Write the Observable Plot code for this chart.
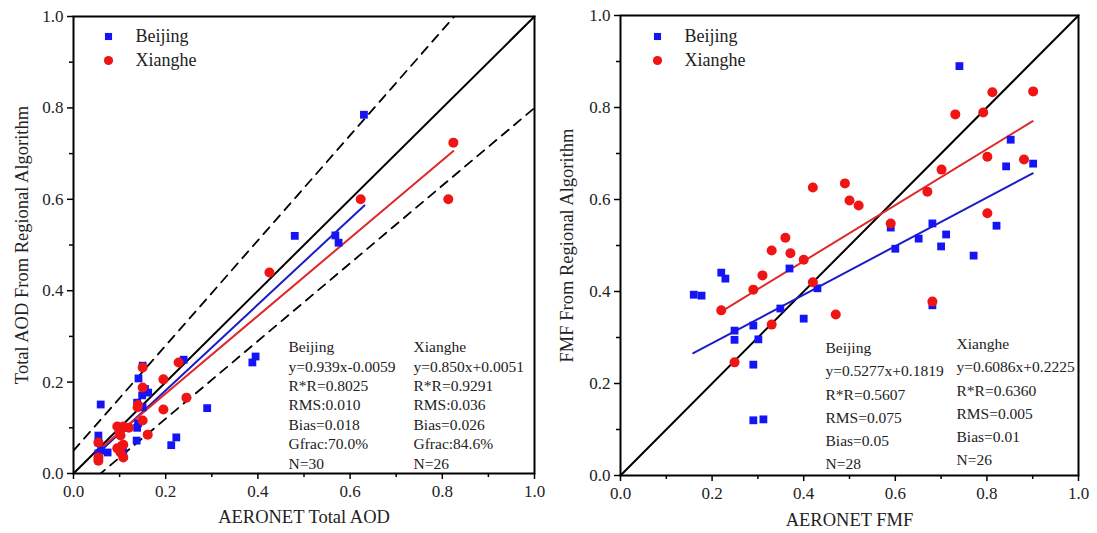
<!DOCTYPE html>
<html><head><meta charset="utf-8">
<script src="https://cdn.jsdelivr.net/npm/d3@7"></script>
<script src="https://cdn.jsdelivr.net/npm/@observablehq/plot@0.6"></script>
<style>
body{margin:0;background:#fff;}
#wrap{display:flex;width:1097px;height:533px;overflow:hidden;}
svg{overflow:visible;}
</style></head><body><div id="wrap"></div>
<script>
// ---------- data ----------
const seriesNames = ["Beijing", "Xianghe"];
const seriesColors = ["#1414f5", "#f01414"];
const lineColors = ["#1c1cc8", "#e02828"];
const seriesSymbols = ["square", "circle"];

const majorTicks = [0, 0.2, 0.4, 0.6, 0.8, 1.0];
const minorTicks = [0.1, 0.3, 0.5, 0.7, 0.9];

// Left panel: Total AOD
const aodBeijingX = [0.63,0.48,0.568,0.575,0.388,0.395,0.239,0.29,0.223,0.212,0.150,0.141,0.149,0.162,0.138,0.138,0.137,0.059,0.054,0.054,0.074,0.108,0.054,0.14,0.155,0.10,0.105,0.15,0.11,0.06];
const aodBeijingY = [0.785,0.52,0.521,0.505,0.243,0.256,0.249,0.143,0.079,0.062,0.236,0.208,0.171,0.177,0.155,0.10,0.072,0.151,0.083,0.068,0.046,0.046,0.044,0.11,0.185,0.09,0.06,0.145,0.10,0.05];
const aodXiangheX = [0.824,0.813,0.623,0.425,0.228,0.150,0.195,0.15,0.245,0.139,0.195,0.15,0.095,0.108,0.102,0.161,0.108,0.054,0.102,0.108,0.054,0.054,0.10,0.12,0.14,0.095];
const aodXiangheY = [0.724,0.60,0.60,0.44,0.243,0.232,0.206,0.188,0.166,0.145,0.14,0.116,0.103,0.103,0.083,0.085,0.063,0.068,0.046,0.035,0.028,0.035,0.09,0.10,0.15,0.055];
const aodFitSlope = [0.939, 0.850];
const aodFitIntercept = [-0.0059, 0.0051];
const aodFitXRange = [[0.054, 0.631], [0.054, 0.824]];
const envelopeSlope = [1.15, 0.85];
const envelopeIntercept = [0.05, -0.05];
const aodNotes = [
  "Beijing\ny=0.939x-0.0059\nR*R=0.8025\nRMS:0.010\nBias=0.018\nGfrac:70.0%\nN=30",
  "Xianghe\ny=0.850x+0.0051\nR*R=0.9291\nRMS:0.036\nBias=0.026\nGfrac:84.6%\nN=26"
];

// Right panel: FMF
const fmfBeijingX = [0.74,0.852,0.842,0.901,0.821,0.681,0.711,0.651,0.70,0.60,0.771,0.59,0.681,0.369,0.22,0.229,0.16,0.177,0.43,0.349,0.40,0.249,0.29,0.249,0.301,0.29,0.29,0.312];
const fmfBeijingY = [0.89,0.73,0.672,0.678,0.543,0.548,0.524,0.515,0.498,0.493,0.478,0.539,0.37,0.45,0.441,0.428,0.393,0.391,0.407,0.363,0.341,0.315,0.326,0.295,0.296,0.241,0.12,0.122];
const fmfXiangheX = [0.812,0.901,0.731,0.792,0.801,0.881,0.701,0.67,0.801,0.59,0.49,0.50,0.52,0.681,0.42,0.33,0.36,0.371,0.40,0.31,0.29,0.22,0.42,0.47,0.33,0.249];
const fmfXiangheY = [0.833,0.835,0.785,0.789,0.693,0.687,0.665,0.617,0.57,0.548,0.635,0.598,0.587,0.378,0.626,0.489,0.517,0.483,0.469,0.435,0.404,0.359,0.42,0.35,0.328,0.246];
const fmfFitSlope = [0.5277, 0.6086];
const fmfFitIntercept = [0.1819, 0.2225];
const fmfFitXRange = [[0.159, 0.90], [0.22, 0.90]];
const fmfNotes = [
  "Beijing\ny=0.5277x+0.1819\nR*R=0.5607\nRMS=0.075\nBias=0.05\nN=28",
  "Xianghe\ny=0.6086x+0.2225\nR*R=0.6360\nRMS=0.005\nBias=0.01\nN=26"
];

// ---------- build ----------
const zip = (xs, ys, s) => xs.map((x, i) => ({x, y: ys[i], s}));
const fitRows = (slopes, ints, ranges) => slopes.flatMap((m, i) =>
  ranges[i].map(x => ({x, y: m * x + ints[i], s: seriesNames[i]})));

function panel(cfg) {
  const marks = [
    Plot.line([0, 1], {x: d => d, y: d => d, stroke: "black", strokeWidth: 2})
  ];
  if (cfg.envelope) {
    const rows = envelopeSlope.flatMap((m, i) =>
      [0, 1].map(x => ({x, y: m * x + envelopeIntercept[i], k: i})));
    marks.push(Plot.line(rows, {x: "x", y: "y", z: "k", stroke: "black", strokeWidth: 1.8, strokeDasharray: "9,7", clip: true}));
  }
  marks.push(Plot.line(cfg.fits, {x: "x", y: "y", z: "s", stroke: "s", strokeWidth: 2}));
  cfg.points.forEach((pts, i) => {
    marks.push(Plot.dot(pts, {x: "x", y: "y", symbol: seriesSymbols[i], fill: seriesColors[i], r: i === 0 ? 4.4 : 5}));
  });
  // legend
  seriesNames.forEach((name, i) => {
    marks.push(Plot.dot([name], {frameAnchor: "top-left", dx: cfg.legDx, dy: cfg.legDy + i * 24, symbol: seriesSymbols[i], fill: seriesColors[i], r: i === 0 ? 4 : 4.6}));
    marks.push(Plot.text([name], {frameAnchor: "top-left", dx: cfg.legDx + 27, dy: cfg.legDy + i * 24, text: d => d, textAnchor: "start", lineAnchor: "middle", fontSize: 18, fill: "#222"}));
  });
  // notes
  cfg.notes.forEach((t, i) => {
    marks.push(Plot.text([t], {frameAnchor: "top-left", dx: cfg.noteDx[i], dy: cfg.noteDy[i], text: d => d, textAnchor: "start", lineAnchor: "top", lineHeight: cfg.noteLH, fontSize: 15.5, fill: "#222"}));
  });
  // axes
  marks.push(
    Plot.axisX({ticks: majorTicks, tickFormat: d3.format(".1f"), tickSize: 6, tickPadding: 5, strokeWidth: 1.5, fontSize: 17, fill: "#222"}),
    Plot.axisX({ticks: minorTicks, tickFormat: () => "", tickSize: 4, strokeWidth: 1.5}),
    Plot.axisY({ticks: majorTicks, tickFormat: d3.format(".1f"), tickSize: 6, tickPadding: 4, strokeWidth: 1.5, fontSize: 17, fill: "#222"}),
    Plot.axisY({ticks: minorTicks, tickFormat: () => "", tickSize: 4, strokeWidth: 1.5}),
    Plot.frame({stroke: "black", strokeWidth: 2}),
    Plot.text([cfg.xLabel], {frameAnchor: "bottom", dy: cfg.xLabDy, text: d => d, textAnchor: "middle", lineAnchor: "middle", fontSize: 18.5, fill: "#222"}),
    Plot.text([cfg.yLabel], {frameAnchor: "left", dx: cfg.yLabDx, rotate: -90, text: d => d, textAnchor: "middle", lineAnchor: "middle", fontSize: 18.5, fill: "#222"})
  );
  return Plot.plot({
    width: cfg.width, height: 533,
    marginLeft: cfg.ml, marginRight: cfg.mr, marginTop: cfg.mt, marginBottom: cfg.mb,
    x: {domain: [0, 1], label: null, axis: null},
    y: {domain: [0, 1], label: null, axis: null},
    color: {domain: seriesNames, range: lineColors},
    style: {fontFamily: "'Liberation Serif', 'Times New Roman', serif", fontSize: "17px", background: "white", overflow: "visible"},
    marks
  });
}

const left = panel({
  width: 550, ml: 73, mr: 16, mt: 16, mb: 60,
  points: [zip(aodBeijingX, aodBeijingY, "Beijing"), zip(aodXiangheX, aodXiangheY, "Xianghe")],
  fits: fitRows(aodFitSlope, aodFitIntercept, aodFitXRange),
  envelope: true,
  legDx: 35, legDy: 20,
  notes: aodNotes, noteDx: [215, 340], noteDy: [322, 322], noteLH: 1.25,
  xLabel: "AERONET Total AOD", yLabel: "Total AOD From Regional Algorithm",
  xLabDy: 44, yLabDx: -51
});
const right = panel({
  width: 547, ml: 70, mr: 19, mt: 15, mb: 58,
  points: [zip(fmfBeijingX, fmfBeijingY, "Beijing"), zip(fmfXiangheX, fmfXiangheY, "Xianghe")],
  fits: fitRows(fmfFitSlope, fmfFitIntercept, fmfFitXRange),
  envelope: false,
  legDx: 37, legDy: 21,
  notes: fmfNotes, noteDx: [205, 336], noteDy: [321, 317], noteLH: 1.5,
  xLabel: "AERONET FMF", yLabel: "FMF From Regional Algorithm",
  xLabDy: 45, yLabDx: -53
});
document.getElementById("wrap").append(left, right);
</script></body></html>
